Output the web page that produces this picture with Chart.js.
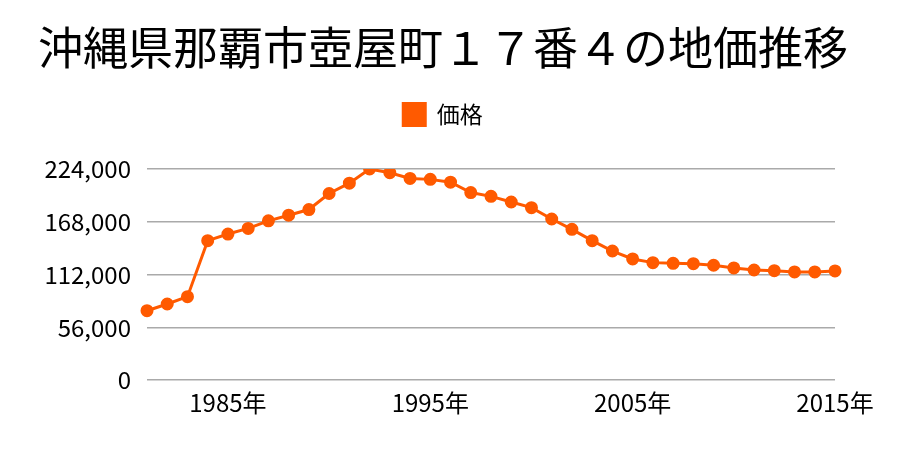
<!DOCTYPE html>
<html>
<head>
<meta charset="utf-8">
<script src="https://cdn.jsdelivr.net/npm/chart.js@4"></script>
<style>
  body { margin: 0; background: #fff; }
</style>
</head>
<body>
<canvas id="myChart" width="900" height="450"></canvas>
<script>
const lineColor = '#ff5a00'
const gridColor = '#aaaaaa'
const fontFamily = '"Noto Sans CJK JP", "Noto Sans", sans-serif'

// data \\
const years = [1981, 1982, 1983, 1984, 1985, 1986, 1987, 1988, 1989, 1990,
  1991, 1992, 1993, 1994, 1995, 1996, 1997, 1998, 1999, 2000,
  2001, 2002, 2003, 2004, 2005, 2006, 2007, 2008, 2009, 2010,
  2011, 2012, 2013, 2014, 2015]
const prices = [73700, 80800, 88600, 148000, 155000, 161000, 169000, 175000, 181000, 198000,
  209000, 224000, 220000, 214000, 213000, 210000, 199000, 195000, 189000, 183000,
  171000, 160000, 148000, 137000, 128600, 124700, 124000, 123600, 121900, 119100,
  116900, 116200, 114800, 114800, 115900]
const shownYears = [1985, 1995, 2005, 2015]
const yTicks = [0, 56000, 112000, 168000, 224000]

// =========== \\

// extra room under the legend
const legendSpacer = {
  id: 'legendSpacer',
  beforeInit(chart) {
    const fit = chart.legend.fit
    chart.legend.fit = function () {
      fit.bind(chart.legend)()
      this.height += 33
    }
  }
}

var ctx = document.getElementById('myChart')
var lineChart = new Chart(ctx, {
  type: 'line',
  data: {
    labels: years.map(y => y + '年'),
    datasets: [{
      label: '価格',
      data: prices,
      borderColor: lineColor,
      backgroundColor: lineColor,
      borderWidth: 3,
      pointRadius: 5,
      pointHoverRadius: 5,
      tension: 0,
      fill: false,
    }]
  },
  plugins: [legendSpacer],
  options: {
    responsive: false,
    animation: false,
    layout: { padding: { left: 16, right: 30, top: 0, bottom: 33 } },
    plugins: {
      title: {
        display: true,
        text: '沖縄県那覇市壺屋町１７番４の地価推移',
        color: '#000',
        font: { family: fontFamily, size: 45, weight: 'normal' },
        padding: { top: 21, bottom: 18 },
      },
      legend: {
        labels: {
          color: '#000',
          boxWidth: 22,
          boxHeight: 22,
          font: { family: fontFamily, size: 23 },
          padding: 10,
        }
      },
      tooltip: { enabled: false },
    },
    scales: {
      x: {
        grid: { display: false },
        border: { display: false },
        afterFit: axis => { axis.paddingRight = 65 },
        ticks: {
          autoSkip: false,
          maxRotation: 0,
          padding: 0,
          color: '#000',
          font: { family: fontFamily, size: 24 },
          callback: function (v, i) {
            return shownYears.includes(years[i]) ? years[i] + '年' : ''
          },
        },
      },
      y: {
        min: 0,
        max: 224000,
        border: { display: false },
        grid: { color: gridColor, lineWidth: 1.5, drawTicks: false },
        afterBuildTicks: axis => { axis.ticks = yTicks.map(v => ({ value: v })) },
        afterFit: axis => { axis.width = 131 },
        ticks: {
          color: '#000',
          padding: 16,
          font: { family: fontFamily, size: 24 },
          callback: v => v.toLocaleString('en-US'),
        },
      },
    },
  },
})
</script>
</body>
</html>
